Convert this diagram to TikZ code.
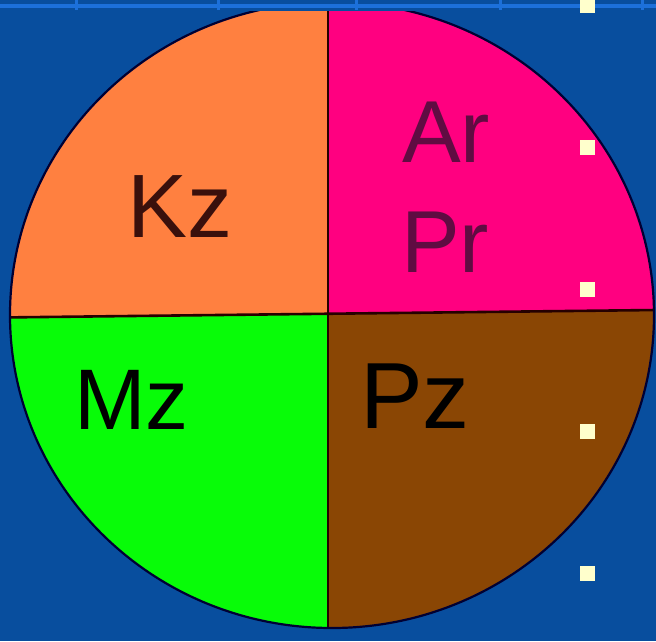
\documentclass[tikz,border=0pt]{standalone}
\usepackage{fontspec}
\setmainfont{Liberation Sans}

\definecolor{bgblue}{RGB}{8,78,158}
\definecolor{ruleblue}{RGB}{28,112,218}
\definecolor{orangeq}{RGB}{255,128,64}
\definecolor{pinkq}{RGB}{255,0,128}
\definecolor{greenq}{RGB}{8,252,8}
\definecolor{brownq}{RGB}{138,70,4}
\definecolor{kztext}{RGB}{58,16,12}
\definecolor{arprtext}{RGB}{96,12,66}
\definecolor{cream}{RGB}{255,255,204}

\tikzstyle{quadtext} = [inner sep = 0pt, anchor = base]
\tikzstyle{divider} = [draw = black!85!red, line width = 2.6pt]
\tikzstyle{rim} = [draw = black!80!blue, line width = 2.2pt]

\begin{document}
\begin{tikzpicture}[x = 1pt, y = -1pt]
		\useasboundingbox (0, 0) rectangle (656, 641);
		\fill [bgblue] (0, 0) rectangle (656, 641);

		% rule along the top
		\fill [ruleblue] (0, 4) rectangle (656, 7.5);
		\foreach \x in {76, 218, 356, 500, 642}
			\fill [ruleblue] (\x - 1.5, 0) rectangle (\x + 1.5, 10);

		% the disc, cut off at the top
		\begin{scope}
			\clip (0, 11) rectangle (656, 641);
			\begin{scope}
				\clip (332, 315) ellipse [x radius = 322, y radius = 313];
				\fill [orangeq] (0, 0) -- (328, 0) -- (328, 314) -- (0, 317.5) -- cycle;
				\fill [pinkq] (328, 0) -- (656, 0) -- (656, 310) -- (328, 314) -- cycle;
				\fill [greenq] (0, 317.5) -- (328, 314) -- (328, 641) -- (0, 641) -- cycle;
				\fill [brownq] (328, 314) -- (656, 310) -- (656, 641) -- (328, 641) -- cycle;
				\path [divider] (0, 317.5) -- (656, 310);
				\path [divider] (328, 0) -- (328, 641);
			\end{scope}
			\path [rim] (332, 315) ellipse [x radius = 322, y radius = 313];
		\end{scope}

		\node [quadtext, text = kztext, font = \fontsize{90}{108}\selectfont] at (180, 237) (Kz) {Kz};
		\node [quadtext, text = arprtext, font = \fontsize{88}{106}\selectfont] at (446, 162) (Ar) {Ar};
		\node [quadtext, text = arprtext, font = \fontsize{88}{106}\selectfont] at (445, 272) (Pr) {Pr};
		\node [quadtext, text = black, font = \fontsize{86}{103}\selectfont] at (131.5, 429) (Mz) {Mz};
		\node [quadtext, text = black, font = \fontsize{94}{113}\selectfont] at (415, 428) (Pz) {Pz};

		% bullet squares on the right
		\foreach \y in {-2, 140, 282, 424, 566}
			\fill [cream] (580, \y) rectangle (595, \y + 15);
	\end{tikzpicture}
\end{document}
